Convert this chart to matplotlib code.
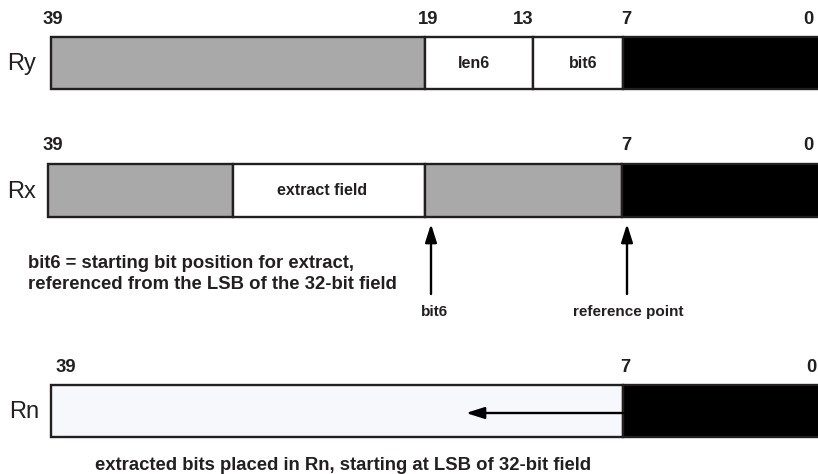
import matplotlib.pyplot as plt
from matplotlib.patches import Rectangle

plt.rcParams['font.family'] = ['Liberation Sans', 'DejaVu Sans']

# register rows: name, top, bottom (pixel space of the drawing)
reg_names = ["Ry", "Rx", "Rn"]
reg_top = [37, 164, 385]
reg_bot = [89, 217, 437]
reg_label_x = [7, 7, 9]

# field boundaries (left edge -> right edge), fills and field names per register
ry_edges = [51, 425, 533, 623, 830]
ry_fills = ["#a9a9a9", "white", "white", "black"]
ry_texts = ["", "len6", "bit6", ""]
ry_text_x = [0, 474, 583, 0]

rx_edges = [48, 233, 425, 622, 830]
rx_fills = ["#a9a9a9", "white", "#a9a9a9", "black"]
rx_texts = ["", "extract field", "", ""]
rx_text_x = [0, 322, 0, 0]

rn_edges = [51, 623, 830]
rn_fills = ["#f6f8fc", "black"]
rn_texts = ["", ""]
rn_text_x = [0, 0]

# bit numbers above each register
ry_bits = ["39", "19", "13", "7", "0"]
ry_bit_x = [53, 428, 523, 626, 808]
rx_bits = ["39", "7", "0"]
rx_bit_x = [53, 626, 808]
rn_bits = ["39", "7", "0"]
rn_bit_x = [66, 625, 811]

fig = plt.figure(figsize=(8.18, 4.74), dpi=100)
ax = fig.add_axes([0, 0, 1, 1])
ax.set_xlim(0, 818)
ax.set_ylim(474, 0)
ax.axis("off")

ink = "#231f20"


def draw_register(row, edges, fills, texts, text_x, bits, bit_x):
    top, bot = reg_top[row], reg_bot[row]
    for i in range(len(fills)):
        x0, x1 = edges[i], edges[i + 1]
        ax.add_patch(Rectangle((x0, top), x1 - x0, bot - top, facecolor=fills[i],
                               edgecolor=ink, linewidth=1.7))
        if texts[i]:
            ax.text(text_x[i], (top + bot) / 2, texts[i], ha="center", va="center",
                    fontsize=11.5, fontweight="bold", color=ink)
    ax.text(reg_label_x[row], (top + bot) / 2 + 1, reg_names[row], ha="left", va="center",
            fontsize=17, color=ink)
    for b, x in zip(bits, bit_x):
        ax.text(x, top - 18, b, ha="center", va="center", fontsize=13.3,
                fontweight="bold", color=ink)


draw_register(0, ry_edges, ry_fills, ry_texts, ry_text_x, ry_bits, ry_bit_x)
draw_register(1, rx_edges, rx_fills, rx_texts, rx_text_x, rx_bits, rx_bit_x)
draw_register(2, rn_edges, rn_fills, rn_texts, rn_text_x, rn_bits, rn_bit_x)

head = "-|>,head_length=1.1,head_width=0.35"

# pointer arrows under Rx
arrow_x = [431, 627]
arrow_lbl = ["bit6", "reference point"]
arrow_lbl_x = [434, 628]
for x, lbl, lx in zip(arrow_x, arrow_lbl, arrow_lbl_x):
    ax.annotate("", xy=(x, 224), xytext=(x, 294),
                arrowprops=dict(arrowstyle=head, color="black", lw=1.7,
                                shrinkA=0, shrinkB=0))
    ax.text(lx, 312, lbl, ha="center", va="center", fontsize=11,
            fontweight="bold", color=ink)

# shift arrow in Rn
ax.annotate("", xy=(466, 413), xytext=(623, 413),
            arrowprops=dict(arrowstyle=head, color="black", lw=1.7,
                            shrinkA=0, shrinkB=0))

ax.text(28, 274, "bit6 = starting bit position for extract,\nreferenced from the LSB of the 32-bit field",
        ha="left", va="center", fontsize=13.3, fontweight="bold", color=ink,
        linespacing=1.3)
ax.text(95, 465, "extracted bits placed in Rn, starting at LSB of 32-bit field",
        ha="left", va="center", fontsize=13.3, fontweight="bold", color=ink)

fig.savefig("out.png", dpi=100)
